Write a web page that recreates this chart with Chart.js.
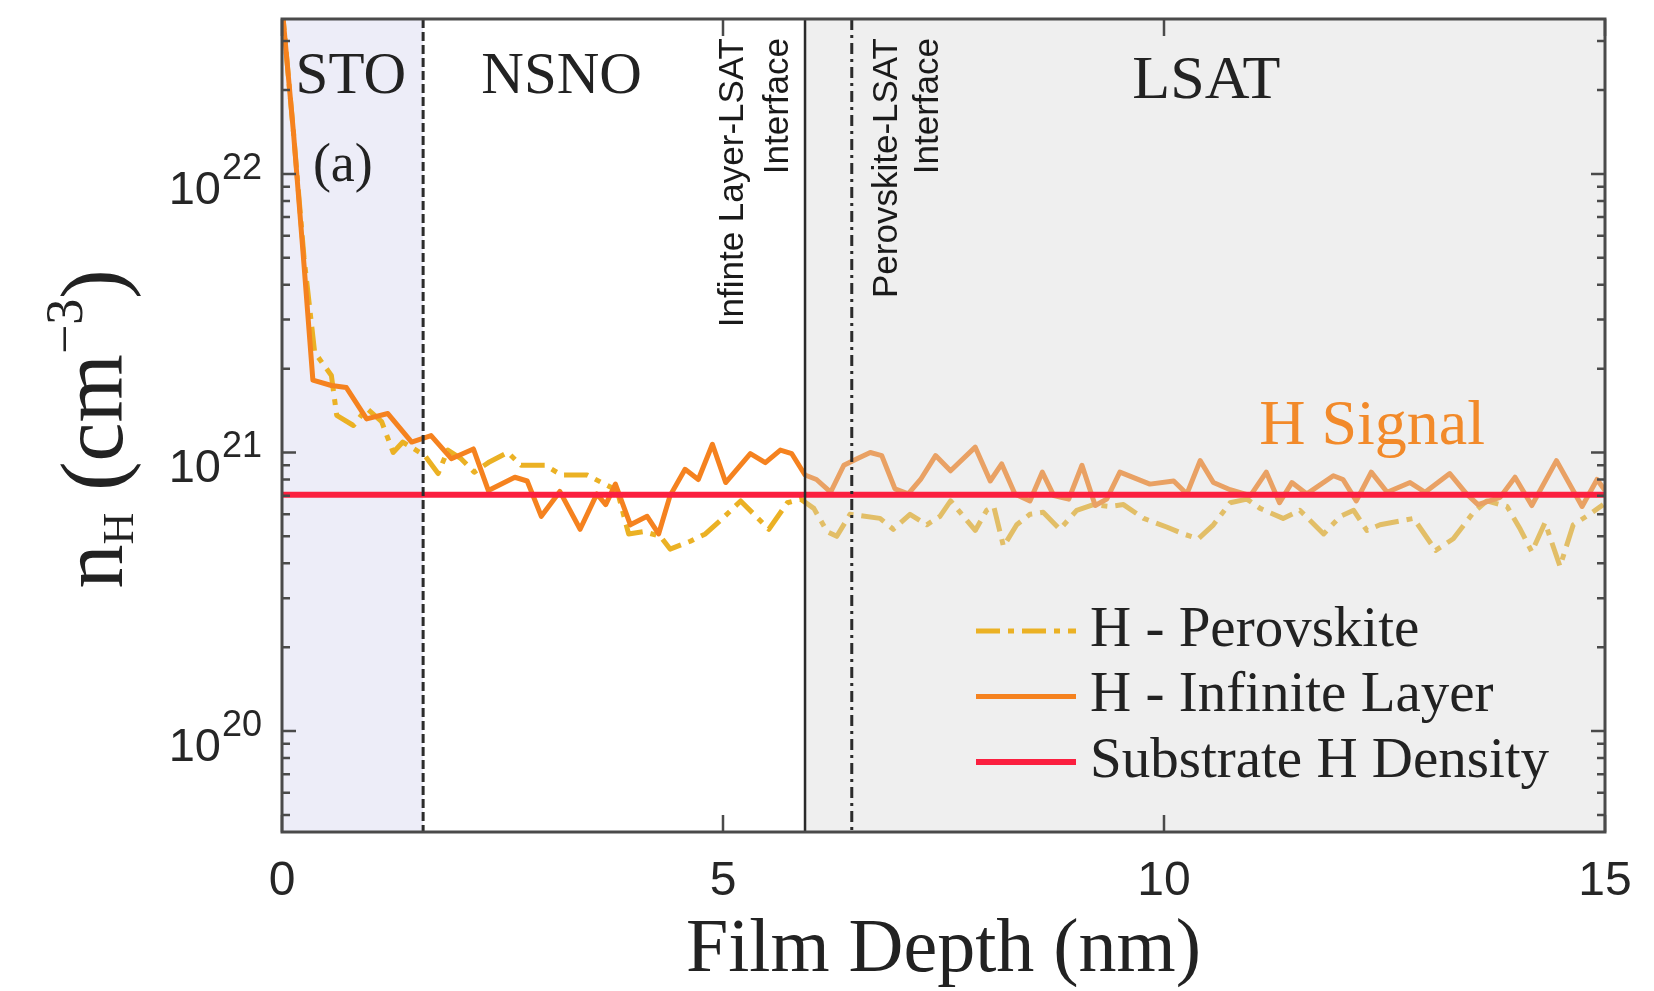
<!DOCTYPE html>
<html>
<head>
<meta charset="utf-8">
<script src="https://cdn.jsdelivr.net/npm/chart.js@4.4.1/dist/chart.umd.min.js"></script>
<style>
  html, body { margin: 0; padding: 0; background: #ffffff; }
</style>
</head>
<body>
<canvas id="chart" width="1654" height="991"></canvas>
<script>
// H - Infinite Layer (solid), depth in nm, density in cm^-3
const depthInfinite = [
  0, 0.13, 0.25, 0.35, 0.56, 0.73, 0.96, 1.20, 1.47, 1.69,
  1.92, 2.17, 2.34, 2.64, 2.78, 2.94, 3.15, 3.38, 3.57, 3.67,
  3.78, 3.95, 4.14, 4.27, 4.40, 4.57, 4.72, 4.88, 5.03, 5.31,
  5.48, 5.65, 5.78, 5.93, 6.06, 6.22, 6.37, 6.52, 6.67, 6.80,
  6.95, 7.10, 7.24, 7.41, 7.58, 7.86, 8.03, 8.16, 8.31, 8.48,
  8.62, 8.75, 8.92, 9.07, 9.22, 9.35, 9.50, 9.84, 10.11, 10.26,
  10.41, 10.56, 10.75, 10.98, 11.16, 11.31, 11.45, 11.62, 11.92, 12.03,
  12.18, 12.35, 12.53, 12.79, 12.96, 13.24, 13.43, 13.56, 13.81, 13.98,
  14.17, 14.45, 14.74, 14.91, 15.00
];
const hInfinite = [
  4.0e22, 1.41e22, 4.7e21, 1.82e21, 1.74e21, 1.71e21, 1.32e21, 1.38e21, 1.09e21, 1.15e21,
  9.5e20, 1.03e21, 7.3e20, 8.15e20, 7.9e20, 5.9e20, 7.25e20, 5.3e20, 7.1e20, 6.5e20,
  7.7e20, 5.5e20, 5.9e20, 5.1e20, 7.0e20, 8.7e20, 8.0e20, 1.07e21, 7.8e20, 9.9e20,
  9.2e20, 1.02e21, 9.9e20, 8.3e20, 8.0e20, 7.2e20, 9.0e20, 9.5e20, 1.0e21, 9.75e20,
  7.4e20, 7.1e20, 8.0e20, 9.75e20, 8.6e20, 1.045e21, 7.9e20, 9.1e20, 7.1e20, 6.7e20,
  8.5e20, 7.0e20, 6.8e20, 9.0e20, 6.45e20, 6.8e20, 8.5e20, 7.7e20, 7.9e20, 7.1e20,
  9.35e20, 7.8e20, 7.35e20, 7.0e20, 8.5e20, 6.6e20, 7.8e20, 7.1e20, 8.25e20, 8.0e20,
  6.7e20, 8.5e20, 7.2e20, 7.8e20, 7.2e20, 8.4e20, 7.1e20, 6.5e20, 6.9e20, 8.15e20,
  6.45e20, 9.35e20, 6.4e20, 8.0e20, 7.3e20
];

// H - Perovskite (dash-dot)
const depthPerovskite = [
  0, 0.13, 0.25, 0.37, 0.56, 0.62, 0.81, 0.96, 1.13, 1.26,
  1.37, 1.62, 1.77, 1.88, 2.03, 2.18, 2.34, 2.56, 2.71, 2.98,
  3.17, 3.46, 3.80, 3.93, 4.10, 4.29, 4.40, 4.63, 4.80, 4.97,
  5.20, 5.52, 5.73, 5.88, 6.03, 6.18, 6.29, 6.44, 6.78, 6.93,
  7.12, 7.31, 7.46, 7.58, 7.86, 7.99, 8.07, 8.18, 8.33, 8.48,
  8.63, 8.82, 9.01, 9.20, 9.39, 9.54, 9.77, 10.03, 10.22, 10.39,
  10.56, 10.75, 10.94, 11.09, 11.35, 11.54, 11.81, 12.00, 12.15, 12.30,
  12.45, 12.83, 13.08, 13.28, 13.51, 13.66, 13.89, 14.04, 14.17, 14.32,
  14.49, 14.64, 14.79, 14.98
];
const hPerovskite = [
  4.0e22, 1.41e22, 5.0e21, 2.29e21, 1.89e21, 1.36e21, 1.25e21, 1.44e21, 1.29e21, 1.0e21,
  1.09e21, 9.75e20, 8.4e20, 1.02e21, 9.5e20, 8.5e20, 9.2e20, 1.0e21, 9.0e20, 9.0e20,
  8.3e20, 8.3e20, 7.3e20, 5.1e20, 5.2e20, 5.0e20, 4.5e20, 4.8e20, 5.1e20, 5.7e20,
  6.7e20, 5.3e20, 6.6e20, 6.8e20, 6.3e20, 5.2e20, 5.0e20, 6.0e20, 5.8e20, 5.3e20,
  6.0e20, 5.5e20, 5.9e20, 6.7e20, 5.25e20, 6.2e20, 6.4e20, 4.6e20, 5.5e20, 6.0e20,
  6.1e20, 5.3e20, 6.2e20, 6.5e20, 6.4e20, 6.5e20, 5.8e20, 5.4e20, 5.1e20, 4.9e20,
  5.5e20, 6.6e20, 6.8e20, 6.3e20, 5.8e20, 6.2e20, 5.1e20, 5.9e20, 6.2e20, 5.25e20,
  5.5e20, 5.8e20, 4.45e20, 4.9e20, 6.1e20, 6.7e20, 6.4e20, 5.3e20, 4.4e20, 5.6e20,
  3.9e20, 5.5e20, 5.9e20, 6.5e20
];

// substrate level (flat)
const substrateDepth = [0, 15];
const substrateH = [7.05e20, 7.05e20];

// STO/NSNO, infinite layer-LSAT, perovskite-LSAT interfaces (nm)
const interfaceDepth = [1.6, 5.93, 6.46];

const xTickValues = [0, 5, 10, 15];
const yDecades = [19, 20, 21, 22];

const serif = '"Liberation Serif", "Times New Roman", serif';
const sans = '"Liberation Sans", Arial, sans-serif';
const infiniteColor = '#f5821f';
const perovColor = '#ebb124';
const substrateColor = '#fb1f3f';
const perovDash = [24, 8, 6, 8];
const textColor = '#222222';

function toPoints(xs, ys) {
  return xs.map((d, i) => ({ x: d, y: ys[i] }));
}

const profileDecor = {
  id: 'profileDecor',
  beforeDraw(chart) {
    const ctx = chart.ctx;
    ctx.save();
    ctx.fillStyle = '#ffffff';
    ctx.fillRect(0, 0, chart.width, chart.height);
    ctx.restore();
  },
  beforeDatasetsDraw(chart) {
    const { ctx, chartArea: a, scales: { x } } = chart;
    const x0 = x.getPixelForValue(0);
    const x1 = x.getPixelForValue(interfaceDepth[0]);
    ctx.save();
    ctx.fillStyle = '#ededf8';
    ctx.fillRect(x0, a.top, x1 - x0, a.bottom - a.top);
    ctx.restore();
  },
  afterDatasetDraw(chart, args) {
    // LSAT shade goes over the two H profiles, under the substrate line
    if (args.index !== 1) return;
    const { ctx, chartArea: a, scales: { x } } = chart;
    const x0 = x.getPixelForValue(interfaceDepth[1]);
    const x1 = x.getPixelForValue(15);
    ctx.save();
    ctx.fillStyle = 'rgba(212,212,212,0.38)';
    ctx.fillRect(x0, a.top, x1 - x0, a.bottom - a.top);
    ctx.restore();
  },
  afterDatasetsDraw(chart) {
    const { ctx, chartArea: a, scales: { x, y } } = chart;
    ctx.save();

    // interface lines
    const styles = [[9, 4], [], [11, 5, 3, 5]];
    interfaceDepth.forEach((d, i) => {
      const px = x.getPixelForValue(d);
      ctx.beginPath();
      ctx.setLineDash(styles[i]);
      ctx.strokeStyle = '#2b2b2b';
      ctx.lineWidth = i === 1 ? 2.5 : 3;
      ctx.moveTo(px, a.top);
      ctx.lineTo(px, a.bottom);
      ctx.stroke();
    });
    ctx.setLineDash([]);

    // inward ticks on all four sides
    ctx.strokeStyle = '#4a4a4a';
    ctx.lineWidth = 2.5;
    ctx.beginPath();
    for (const n of yDecades) {
      for (let k = 1; k <= 9; k++) {
        const v = k * Math.pow(10, n);
        if (v < y.min || v > y.max) continue;
        const py = y.getPixelForValue(v);
        const len = k === 1 ? 14 : 8;
        ctx.moveTo(a.left, py); ctx.lineTo(a.left + len, py);
        ctx.moveTo(a.right, py); ctx.lineTo(a.right - len, py);
      }
    }
    for (const t of x.ticks) {
      const px = x.getPixelForValue(t.value);
      ctx.moveTo(px, a.bottom); ctx.lineTo(px, a.bottom - 17);
      ctx.moveTo(px, a.top); ctx.lineTo(px, a.top + 17);
    }
    ctx.stroke();
    ctx.lineWidth = 3;
    ctx.strokeRect(a.left, a.top, a.right - a.left, a.bottom - a.top);

    // y tick labels 10^n
    ctx.fillStyle = '#262626';
    ctx.textAlign = 'right';
    ctx.textBaseline = 'alphabetic';
    for (const n of yDecades) {
      const v = Math.pow(10, n);
      if (v < y.min || v > y.max) continue;
      const py = y.getPixelForValue(v);
      ctx.font = '36px ' + sans;
      const exp = String(n);
      ctx.fillText(exp, a.left - 20, py + 5);
      const w = ctx.measureText(exp).width;
      ctx.font = '47px ' + sans;
      ctx.fillText('10', a.left - 21 - w, py + 30);
    }

    // y title  n_H (cm^-3)
    const parts = [
      { t: 'n', size: 88, dy: 0 },
      { t: 'H', size: 44, dy: 11 },
      { t: ' (cm', size: 88, dy: 0 },
      { t: '\u22123', size: 52, dy: -40 },
      { t: ')', size: 88, dy: 0 }
    ];
    let total = 0;
    parts.forEach(p => { ctx.font = p.size + 'px ' + serif; p.w = ctx.measureText(p.t).width; total += p.w; });
    ctx.save();
    ctx.translate(122, 429);
    ctx.rotate(-Math.PI / 2);
    ctx.textAlign = 'left';
    ctx.fillStyle = textColor;
    let cx = -total / 2;
    parts.forEach(p => {
      ctx.font = p.size + 'px ' + serif;
      ctx.fillText(p.t, cx, p.dy);
      cx += p.w;
    });
    ctx.restore();

    // region labels
    ctx.textAlign = 'center';
    ctx.textBaseline = 'middle';
    ctx.fillStyle = textColor;
    ctx.font = '59px ' + serif;
    ctx.fillText('STO', x.getPixelForValue(0.78), 77);
    ctx.fillText('NSNO', x.getPixelForValue(3.17), 77);
    ctx.font = '54px ' + serif;
    ctx.fillText('(a)', x.getPixelForValue(0.69), 167);
    ctx.font = '62px ' + serif;
    ctx.fillText('LSAT', x.getPixelForValue(10.48), 82);
    ctx.fillStyle = '#f28a2a';
    ctx.font = '64px ' + serif;
    ctx.fillText('H Signal', x.getPixelForValue(12.36), 427);

    // rotated interface labels
    const p1 = x.getPixelForValue(interfaceDepth[1]);
    const p2 = x.getPixelForValue(interfaceDepth[2]);
    ctx.fillStyle = '#1a1a1a';
    ctx.font = '35px ' + sans;
    ctx.textAlign = 'right';
    ctx.textBaseline = 'alphabetic';
    const up = (text, bx) => {
      ctx.save();
      ctx.translate(bx, a.top + 19);
      ctx.rotate(-Math.PI / 2);
      ctx.fillText(text, 0, 0);
      ctx.restore();
    };
    up('Infinte Layer-LSAT', p1 - 62);
    up('Interface', p1 - 17);
    up('Perovskite-LSAT', p2 + 45);
    up('Interface', p2 + 86);

    // legend
    const rows = [
      { label: 'H - Perovskite', color: perovColor, dash: perovDash, width: 5 },
      { label: 'H - Infinite Layer', color: infiniteColor, dash: [], width: 5 },
      { label: 'Substrate H Density', color: substrateColor, dash: [], width: 6 }
    ];
    ctx.textAlign = 'left';
    ctx.textBaseline = 'middle';
    ctx.font = '57px ' + serif;
    rows.forEach((r, i) => {
      const ly = 631 + i * 65.5;
      ctx.beginPath();
      ctx.setLineDash(r.dash);
      ctx.strokeStyle = r.color;
      ctx.lineWidth = r.width;
      ctx.moveTo(976, ly);
      ctx.lineTo(1076, ly);
      ctx.stroke();
      ctx.setLineDash([]);
      ctx.fillStyle = textColor;
      ctx.fillText(r.label, 1090, ly);
    });

    ctx.restore();
  }
};

new Chart(document.getElementById('chart'), {
  type: 'line',
  data: {
    datasets: [
      {
        label: 'Substrate H Density',
        data: toPoints(substrateDepth, substrateH),
        borderColor: substrateColor,
        borderWidth: 6
      },
      {
        label: 'H - Infinite Layer',
        data: toPoints(depthInfinite, hInfinite),
        borderColor: infiniteColor,
        borderWidth: 5
      },
      {
        label: 'H - Perovskite',
        data: toPoints(depthPerovskite, hPerovskite),
        borderColor: perovColor,
        borderWidth: 5,
        borderDash: perovDash
      }
    ]
  },
  options: {
    responsive: false,
    animation: false,
    devicePixelRatio: 1,
    layout: { padding: { top: 19, right: 49, left: 0, bottom: 0 } },
    elements: {
      point: { radius: 0, hoverRadius: 0 },
      line: { tension: 0, borderJoinStyle: 'round', fill: false }
    },
    scales: {
      x: {
        type: 'linear',
        min: 0,
        max: 15,
        afterBuildTicks(scale) {
          scale.ticks = xTickValues.map(v => ({ value: v }));
        },
        ticks: {
          padding: 21,
          color: '#262626',
          font: { family: sans, size: 48 }
        },
        grid: { display: false, drawTicks: false },
        border: { display: false },
        title: {
          display: true,
          text: 'Film Depth (nm)',
          color: textColor,
          font: { family: serif, size: 76, lineHeight: 1 },
          padding: { top: 0, bottom: 2 }
        },
        afterFit(scale) { scale.height = 159; }
      },
      y: {
        type: 'logarithmic',
        min: 4.34e19,
        max: 3.6e22,
        ticks: { display: false },
        grid: { display: false, drawTicks: false },
        border: { display: false },
        afterFit(scale) { scale.width = 282; }
      }
    },
    plugins: {
      legend: { display: false },
      tooltip: { enabled: false }
    }
  },
  plugins: [profileDecor]
});
</script>
</body>
</html>
